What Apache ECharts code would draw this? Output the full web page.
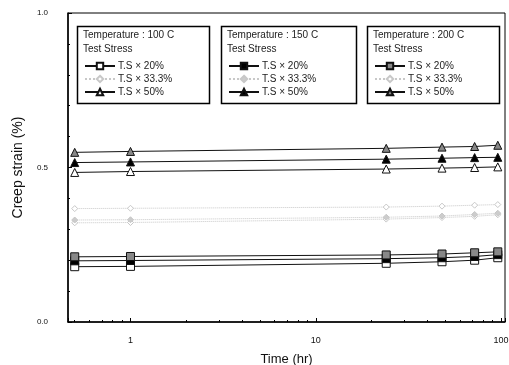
<!DOCTYPE html>
<html><head><meta charset="utf-8">
<script src="https://cdn.jsdelivr.net/npm/echarts@6/dist/echarts.min.js"></script>
<style>html,body{margin:0;padding:0;background:#fff}#c{width:509px;height:365px}</style>
</head><body><div id="c"></div>
<script>
var times = [0.5, 1, 24, 48, 72, 96];
var temps = ['100', '150', '200'];
var stresses = ['20%', '33.3%', '50%'];
var s100_20 = [0.179, 0.180, 0.190, 0.195, 0.200, 0.208];
var s150_20 = [0.198, 0.199, 0.205, 0.208, 0.212, 0.218];
var s200_20 = [0.211, 0.212, 0.217, 0.220, 0.224, 0.227];
var s100_33 = [0.321, 0.322, 0.333, 0.338, 0.342, 0.347];
var s150_33 = [0.330, 0.331, 0.339, 0.343, 0.348, 0.352];
var s200_33 = [0.367, 0.368, 0.372, 0.375, 0.378, 0.380];
var s100_50 = [0.484, 0.487, 0.495, 0.498, 0.500, 0.502];
var s150_50 = [0.516, 0.518, 0.527, 0.530, 0.532, 0.533];
var s200_50 = [0.549, 0.552, 0.562, 0.566, 0.568, 0.572];
var yTicks = ['0.0', '0.5', '1.0'];
var xTicks = ['1', '10', '100'];

var values = {
  '100': [s100_20, s100_33, s100_50],
  '150': [s150_20, s150_33, s150_50],
  '200': [s200_20, s200_33, s200_50]
};
var symbols = ['rect', 'diamond', 'triangle'];
var fills = {'100': '#fff', '150': '#000', '200': '#888'};

var series = [];
temps.forEach(function(t){
  stresses.forEach(function(s, i){
    var gray = (i === 1);
    var col = gray ? '#c8c8c8' : '#111';
    series.push({
      name: t + '|' + s,
      type: 'line',
      data: times.map(function(x, k){ return [x, values[t][i][k]]; }),
      symbol: symbols[i],
      symbolSize: i === 1 ? 6 : 8,
      lineStyle: {color: col, width: 1, type: gray ? 'dotted' : 'solid'},
      itemStyle: {color: gray ? (t === '150' ? '#ccc' : '#fff') : fills[t], borderColor: col, borderWidth: 1},
      emphasis: {disabled: true},
      animation: false
    });
  });
});

var boxes = [{x: 75, w: 132}, {x: 219, w: 135}, {x: 365, w: 132}];
var legends = temps.map(function(t, j){
  return {
    left: boxes[j].x + 4, top: 56, orient: 'vertical',
    itemWidth: 30, itemHeight: 8, itemGap: 3,
    data: stresses.map(function(s){ return t + '|' + s; }),
    formatter: function(n){ return 'T.S \u00d7 ' + n.split('|')[1]; },
    textStyle: {fontSize: 10, color: '#222', fontFamily: 'Liberation Sans', padding: [0,0,0,-2]}
  };
});

var graphics = [];
temps.forEach(function(t, j){
  graphics.push({type: 'rect', left: boxes[j].x, top: 24, shape: {width: boxes[j].w, height: 77},
    style: {fill: 'none', stroke: '#000', lineWidth: 1.5}, z: 10});
  graphics.push({type: 'text', left: boxes[j].x + 8, top: 30,
    style: {text: 'Temperature : ' + t + ' C', fontSize: 10, fill: '#222', fontFamily: 'Liberation Sans'}, z: 10});
  graphics.push({type: 'text', left: boxes[j].x + 8, top: 44,
    style: {text: 'Test Stress', fontSize: 10, fill: '#222', fontFamily: 'Liberation Sans'}, z: 10});
});

var chart = echarts.init(document.getElementById('c'), null, {renderer: 'canvas'});
chart.setOption({
  animation: false,
  backgroundColor: '#fff',
  grid: {left: 68, top: 13, right: 4, bottom: 43, show: true, borderColor: '#000', borderWidth: 1,
    containLabel: false, outerBoundsMode: 'none'},
  legend: legends,
  graphic: graphics,
  xAxis: {
    type: 'log', min: 0.46, max: 105, logBase: 10,
    name: 'Time (hr)', nameLocation: 'middle', nameGap: 31,
    nameTextStyle: {fontSize: 13, color: '#111', fontFamily: 'Liberation Sans'},
    axisLine: {lineStyle: {color: '#000', width: 1.5}},
    axisTick: {inside: true, length: 4, lineStyle: {color: '#000'}},
    minorTick: {show: true, splitNumber: 9, length: 2, lineStyle: {color: '#000'}},
    splitLine: {show: false},
    axisLabel: {fontSize: 9, color: '#111', fontFamily: 'Liberation Sans', margin: 14, showMinLabel: false, showMaxLabel: false,
      formatter: function(v){ var s = String(Math.round(v)); return xTicks.indexOf(s) >= 0 ? s : ''; }}
  },
  yAxis: {
    type: 'value', min: 0, max: 1, interval: 0.5,
    name: 'Creep strain (%)', nameLocation: 'middle', nameGap: 43,
    nameTextStyle: {fontSize: 14, color: '#111', fontFamily: 'Liberation Sans'},
    axisLine: {show: true, lineStyle: {color: '#000', width: 1.5}},
    axisTick: {inside: true, length: 4, lineStyle: {color: '#000'}},
    minorTick: {show: true, splitNumber: 5, length: 2, lineStyle: {color: '#000'}},
    splitLine: {show: false},
    axisLabel: {fontSize: 8, color: '#111', fontFamily: 'Liberation Sans', margin: 20,
      formatter: function(v){ return yTicks[Math.round(v * 2)]; }}
  },
  series: series
});
</script></body></html>
